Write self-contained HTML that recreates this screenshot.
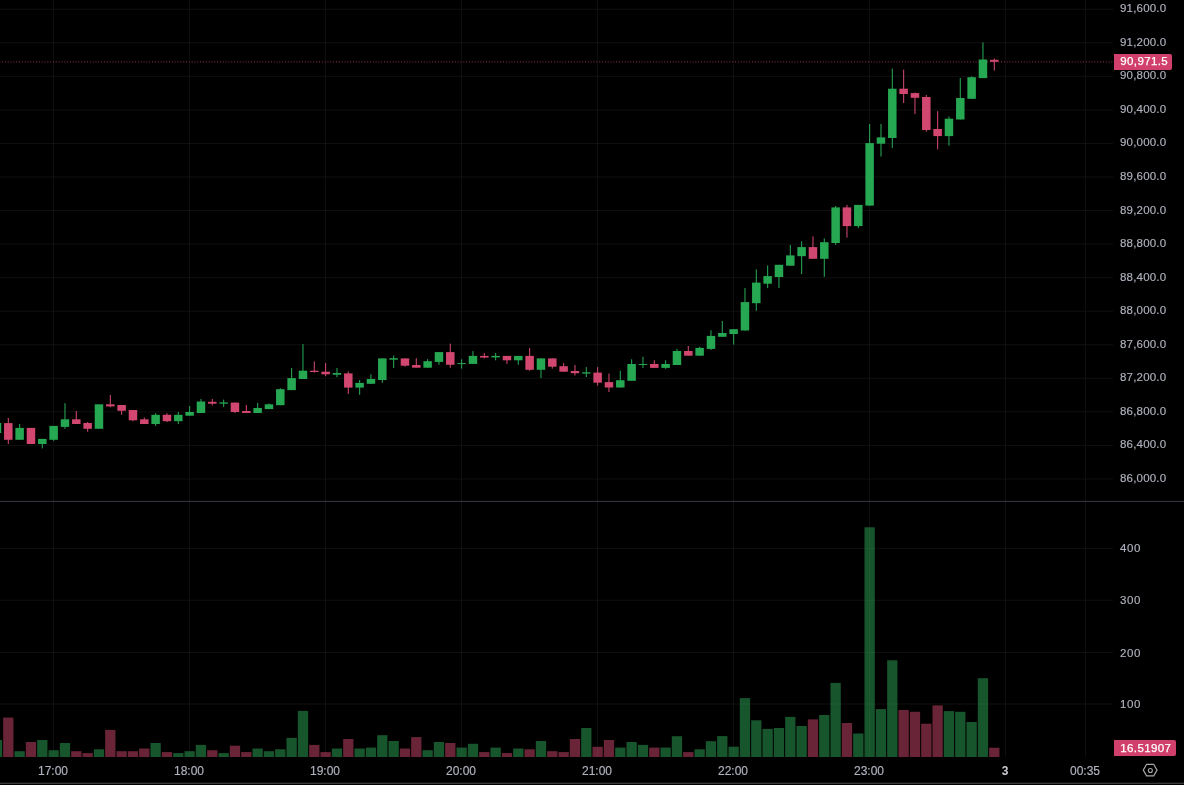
<!DOCTYPE html>
<html><head><meta charset="utf-8">
<style>
html,body{margin:0;padding:0;background:#000;}
body{width:1184px;height:785px;position:relative;overflow:hidden;font-family:"Liberation Sans",sans-serif;}
.pl,.tl,.tag{will-change:transform;}
svg{position:absolute;left:0;top:0;}
.pl{position:absolute;left:1120.3px;-webkit-text-stroke:0.15px #b0b3bf;height:14px;line-height:14px;font-size:11.5px;letter-spacing:0.2px;color:#b0b3bf;white-space:nowrap;}
.tl{position:absolute;top:763.6px;-webkit-text-stroke:0.15px #b0b3bf;width:80px;text-align:center;height:14px;line-height:14px;font-size:12px;letter-spacing:0px;color:#b0b3bf;white-space:nowrap;}
.tl.b{font-weight:bold;color:#cacbd0;-webkit-text-stroke:0;}
.tag{position:absolute;left:1114px;width:58px;height:16px;background:#d1406c;border-radius:0 2px 2px 0;color:#fff;font-size:11.5px;line-height:16px;white-space:nowrap;}
.tag span{position:absolute;left:6.3px;top:-0.6px;letter-spacing:0.38px;-webkit-text-stroke:0.25px #fff;}
</style></head><body>
<svg width="1184" height="785" viewBox="0 0 1184 785">
<rect x="0" y="8.75" width="1113" height="1" fill="#101010"/>
<rect x="0" y="42.3" width="1113" height="1" fill="#101010"/>
<rect x="0" y="75.85" width="1113" height="1" fill="#101010"/>
<rect x="0" y="109.4" width="1113" height="1" fill="#101010"/>
<rect x="0" y="142.95" width="1113" height="1" fill="#101010"/>
<rect x="0" y="176.5" width="1113" height="1" fill="#101010"/>
<rect x="0" y="210.05" width="1113" height="1" fill="#101010"/>
<rect x="0" y="243.6" width="1113" height="1" fill="#101010"/>
<rect x="0" y="277.15" width="1113" height="1" fill="#101010"/>
<rect x="0" y="310.7" width="1113" height="1" fill="#101010"/>
<rect x="0" y="344.25" width="1113" height="1" fill="#101010"/>
<rect x="0" y="377.8" width="1113" height="1" fill="#101010"/>
<rect x="0" y="411.35" width="1113" height="1" fill="#101010"/>
<rect x="0" y="444.9" width="1113" height="1" fill="#101010"/>
<rect x="0" y="478.45" width="1113" height="1" fill="#101010"/>
<rect x="0" y="547.9" width="1113" height="1" fill="#101010"/>
<rect x="0" y="599.8" width="1113" height="1" fill="#101010"/>
<rect x="0" y="652" width="1113" height="1" fill="#101010"/>
<rect x="0" y="703.5" width="1113" height="1" fill="#101010"/>
<rect x="52.9" y="0" width="1" height="757" fill="#101010"/>
<rect x="188.9" y="0" width="1" height="757" fill="#101010"/>
<rect x="324.9" y="0" width="1" height="757" fill="#101010"/>
<rect x="460.9" y="0" width="1" height="757" fill="#101010"/>
<rect x="596.9" y="0" width="1" height="757" fill="#101010"/>
<rect x="732.9" y="0" width="1" height="757" fill="#101010"/>
<rect x="868.9" y="0" width="1" height="757" fill="#101010"/>
<rect x="1004.9" y="0" width="1" height="757" fill="#101010"/>
<rect x="1085.1" y="0" width="1" height="757" fill="#101010"/>
<rect x="0" y="500.9" width="1184" height="1" fill="#363945"/>
<rect x="0" y="782.7" width="1184" height="1.3" fill="#3a3a3a"/>
<rect x="-8.18" y="740" width="10.3" height="17" fill="rgb(38,142,73)" fill-opacity="0.6"/>
<rect x="3.15" y="717.6" width="10.3" height="39.4" fill="rgb(177,60,92)" fill-opacity="0.6"/>
<rect x="14.48" y="751.2" width="10.3" height="5.8" fill="rgb(38,142,73)" fill-opacity="0.6"/>
<rect x="25.82" y="742" width="10.3" height="15" fill="rgb(177,60,92)" fill-opacity="0.6"/>
<rect x="37.15" y="740" width="10.3" height="17" fill="rgb(38,142,73)" fill-opacity="0.6"/>
<rect x="48.48" y="750.2" width="10.3" height="6.8" fill="rgb(38,142,73)" fill-opacity="0.6"/>
<rect x="59.82" y="743" width="10.3" height="14" fill="rgb(38,142,73)" fill-opacity="0.6"/>
<rect x="71.15" y="751.2" width="10.3" height="5.8" fill="rgb(177,60,92)" fill-opacity="0.6"/>
<rect x="82.48" y="753.1" width="10.3" height="3.9" fill="rgb(177,60,92)" fill-opacity="0.6"/>
<rect x="93.82" y="749.3" width="10.3" height="7.7" fill="rgb(38,142,73)" fill-opacity="0.6"/>
<rect x="105.15" y="729.9" width="10.3" height="27.1" fill="rgb(177,60,92)" fill-opacity="0.6"/>
<rect x="116.48" y="751.2" width="10.3" height="5.8" fill="rgb(177,60,92)" fill-opacity="0.6"/>
<rect x="127.82" y="751.2" width="10.3" height="5.8" fill="rgb(177,60,92)" fill-opacity="0.6"/>
<rect x="139.15" y="748.5" width="10.3" height="8.5" fill="rgb(177,60,92)" fill-opacity="0.6"/>
<rect x="150.48" y="743" width="10.3" height="14" fill="rgb(38,142,73)" fill-opacity="0.6"/>
<rect x="161.82" y="752.1" width="10.3" height="4.9" fill="rgb(177,60,92)" fill-opacity="0.6"/>
<rect x="173.15" y="753.1" width="10.3" height="3.9" fill="rgb(38,142,73)" fill-opacity="0.6"/>
<rect x="184.48" y="751.2" width="10.3" height="5.8" fill="rgb(38,142,73)" fill-opacity="0.6"/>
<rect x="195.82" y="744.9" width="10.3" height="12.1" fill="rgb(38,142,73)" fill-opacity="0.6"/>
<rect x="207.15" y="750.2" width="10.3" height="6.8" fill="rgb(177,60,92)" fill-opacity="0.6"/>
<rect x="218.48" y="753.1" width="10.3" height="3.9" fill="rgb(38,142,73)" fill-opacity="0.6"/>
<rect x="229.82" y="745.7" width="10.3" height="11.3" fill="rgb(177,60,92)" fill-opacity="0.6"/>
<rect x="241.15" y="752.1" width="10.3" height="4.9" fill="rgb(177,60,92)" fill-opacity="0.6"/>
<rect x="252.48" y="748.5" width="10.3" height="8.5" fill="rgb(38,142,73)" fill-opacity="0.6"/>
<rect x="263.82" y="751.2" width="10.3" height="5.8" fill="rgb(38,142,73)" fill-opacity="0.6"/>
<rect x="275.15" y="749.3" width="10.3" height="7.7" fill="rgb(38,142,73)" fill-opacity="0.6"/>
<rect x="286.48" y="737.9" width="10.3" height="19.1" fill="rgb(38,142,73)" fill-opacity="0.6"/>
<rect x="297.82" y="710.9" width="10.3" height="46.1" fill="rgb(38,142,73)" fill-opacity="0.6"/>
<rect x="309.15" y="744.9" width="10.3" height="12.1" fill="rgb(177,60,92)" fill-opacity="0.6"/>
<rect x="320.48" y="752.1" width="10.3" height="4.9" fill="rgb(177,60,92)" fill-opacity="0.6"/>
<rect x="331.82" y="748.5" width="10.3" height="8.5" fill="rgb(38,142,73)" fill-opacity="0.6"/>
<rect x="343.15" y="739" width="10.3" height="18" fill="rgb(177,60,92)" fill-opacity="0.6"/>
<rect x="354.48" y="748.5" width="10.3" height="8.5" fill="rgb(38,142,73)" fill-opacity="0.6"/>
<rect x="365.82" y="747.6" width="10.3" height="9.4" fill="rgb(38,142,73)" fill-opacity="0.6"/>
<rect x="377.15" y="735.2" width="10.3" height="21.8" fill="rgb(38,142,73)" fill-opacity="0.6"/>
<rect x="388.48" y="741" width="10.3" height="16" fill="rgb(38,142,73)" fill-opacity="0.6"/>
<rect x="399.82" y="748.5" width="10.3" height="8.5" fill="rgb(177,60,92)" fill-opacity="0.6"/>
<rect x="411.15" y="737.1" width="10.3" height="19.9" fill="rgb(177,60,92)" fill-opacity="0.6"/>
<rect x="422.48" y="750.2" width="10.3" height="6.8" fill="rgb(38,142,73)" fill-opacity="0.6"/>
<rect x="433.82" y="742" width="10.3" height="15" fill="rgb(38,142,73)" fill-opacity="0.6"/>
<rect x="445.15" y="743" width="10.3" height="14" fill="rgb(177,60,92)" fill-opacity="0.6"/>
<rect x="456.48" y="747.6" width="10.3" height="9.4" fill="rgb(38,142,73)" fill-opacity="0.6"/>
<rect x="467.82" y="743.8" width="10.3" height="13.2" fill="rgb(38,142,73)" fill-opacity="0.6"/>
<rect x="479.15" y="752.1" width="10.3" height="4.9" fill="rgb(177,60,92)" fill-opacity="0.6"/>
<rect x="490.48" y="747.6" width="10.3" height="9.4" fill="rgb(38,142,73)" fill-opacity="0.6"/>
<rect x="501.82" y="753.1" width="10.3" height="3.9" fill="rgb(177,60,92)" fill-opacity="0.6"/>
<rect x="513.15" y="748.5" width="10.3" height="8.5" fill="rgb(38,142,73)" fill-opacity="0.6"/>
<rect x="524.48" y="749.3" width="10.3" height="7.7" fill="rgb(177,60,92)" fill-opacity="0.6"/>
<rect x="535.82" y="741" width="10.3" height="16" fill="rgb(38,142,73)" fill-opacity="0.6"/>
<rect x="547.15" y="751.2" width="10.3" height="5.8" fill="rgb(177,60,92)" fill-opacity="0.6"/>
<rect x="558.48" y="752.1" width="10.3" height="4.9" fill="rgb(177,60,92)" fill-opacity="0.6"/>
<rect x="569.81" y="739" width="10.3" height="18" fill="rgb(177,60,92)" fill-opacity="0.6"/>
<rect x="581.15" y="728" width="10.3" height="29" fill="rgb(38,142,73)" fill-opacity="0.6"/>
<rect x="592.48" y="746.8" width="10.3" height="10.2" fill="rgb(177,60,92)" fill-opacity="0.6"/>
<rect x="603.81" y="740" width="10.3" height="17" fill="rgb(177,60,92)" fill-opacity="0.6"/>
<rect x="615.15" y="747.6" width="10.3" height="9.4" fill="rgb(38,142,73)" fill-opacity="0.6"/>
<rect x="626.48" y="742" width="10.3" height="15" fill="rgb(38,142,73)" fill-opacity="0.6"/>
<rect x="637.81" y="744.9" width="10.3" height="12.1" fill="rgb(38,142,73)" fill-opacity="0.6"/>
<rect x="649.15" y="747.6" width="10.3" height="9.4" fill="rgb(177,60,92)" fill-opacity="0.6"/>
<rect x="660.48" y="747.6" width="10.3" height="9.4" fill="rgb(38,142,73)" fill-opacity="0.6"/>
<rect x="671.81" y="736.2" width="10.3" height="20.8" fill="rgb(38,142,73)" fill-opacity="0.6"/>
<rect x="683.15" y="752.1" width="10.3" height="4.9" fill="rgb(177,60,92)" fill-opacity="0.6"/>
<rect x="694.48" y="749.3" width="10.3" height="7.7" fill="rgb(38,142,73)" fill-opacity="0.6"/>
<rect x="705.81" y="741.2" width="10.3" height="15.8" fill="rgb(38,142,73)" fill-opacity="0.6"/>
<rect x="717.15" y="736.1" width="10.3" height="20.9" fill="rgb(38,142,73)" fill-opacity="0.6"/>
<rect x="728.48" y="746.7" width="10.3" height="10.3" fill="rgb(38,142,73)" fill-opacity="0.6"/>
<rect x="739.81" y="698.1" width="10.3" height="58.9" fill="rgb(38,142,73)" fill-opacity="0.6"/>
<rect x="751.15" y="720.3" width="10.3" height="36.7" fill="rgb(38,142,73)" fill-opacity="0.6"/>
<rect x="762.48" y="728.9" width="10.3" height="28.1" fill="rgb(38,142,73)" fill-opacity="0.6"/>
<rect x="773.81" y="728" width="10.3" height="29" fill="rgb(38,142,73)" fill-opacity="0.6"/>
<rect x="785.15" y="716.9" width="10.3" height="40.1" fill="rgb(38,142,73)" fill-opacity="0.6"/>
<rect x="796.48" y="726" width="10.3" height="31" fill="rgb(38,142,73)" fill-opacity="0.6"/>
<rect x="807.81" y="719.4" width="10.3" height="37.6" fill="rgb(177,60,92)" fill-opacity="0.6"/>
<rect x="819.15" y="715" width="10.3" height="42" fill="rgb(38,142,73)" fill-opacity="0.6"/>
<rect x="830.48" y="682.9" width="10.3" height="74.1" fill="rgb(38,142,73)" fill-opacity="0.6"/>
<rect x="841.81" y="723" width="10.3" height="34" fill="rgb(177,60,92)" fill-opacity="0.6"/>
<rect x="853.15" y="733.5" width="10.3" height="23.5" fill="rgb(38,142,73)" fill-opacity="0.6"/>
<rect x="864.48" y="527.3" width="10.3" height="229.7" fill="rgb(38,142,73)" fill-opacity="0.6"/>
<rect x="875.81" y="709.1" width="10.3" height="47.9" fill="rgb(38,142,73)" fill-opacity="0.6"/>
<rect x="887.15" y="660.3" width="10.3" height="96.7" fill="rgb(38,142,73)" fill-opacity="0.6"/>
<rect x="898.48" y="710" width="10.3" height="47" fill="rgb(177,60,92)" fill-opacity="0.6"/>
<rect x="909.81" y="711.8" width="10.3" height="45.2" fill="rgb(177,60,92)" fill-opacity="0.6"/>
<rect x="921.15" y="723.7" width="10.3" height="33.3" fill="rgb(177,60,92)" fill-opacity="0.6"/>
<rect x="932.48" y="705.4" width="10.3" height="51.6" fill="rgb(177,60,92)" fill-opacity="0.6"/>
<rect x="943.81" y="711.1" width="10.3" height="45.9" fill="rgb(38,142,73)" fill-opacity="0.6"/>
<rect x="955.15" y="711.8" width="10.3" height="45.2" fill="rgb(38,142,73)" fill-opacity="0.6"/>
<rect x="966.48" y="722" width="10.3" height="35" fill="rgb(38,142,73)" fill-opacity="0.6"/>
<rect x="977.81" y="678.2" width="10.3" height="78.8" fill="rgb(38,142,73)" fill-opacity="0.6"/>
<rect x="989.15" y="747.7" width="10.3" height="9.3" fill="rgb(177,60,92)" fill-opacity="0.6"/>
<line x1="0" y1="61.9" x2="1113" y2="61.9" stroke="#7c2748" stroke-width="1.2" stroke-dasharray="0.95 1.88" stroke-dashoffset="-2.06"/>
<rect x="-7.28" y="423" width="8.5" height="10" fill="#26a752"/>
<rect x="7.78" y="418" width="1.05" height="26" fill="#d2476f"/>
<rect x="4.05" y="423.1" width="8.5" height="16.7" fill="#d2476f"/>
<rect x="19.11" y="424" width="1.05" height="15.8" fill="#26a752"/>
<rect x="15.38" y="427.9" width="8.5" height="11.9" fill="#26a752"/>
<rect x="26.72" y="427.9" width="8.5" height="16.1" fill="#d2476f"/>
<rect x="41.77" y="438.9" width="1.05" height="9.5" fill="#26a752"/>
<rect x="38.05" y="438.9" width="8.5" height="5.1" fill="#26a752"/>
<rect x="53.11" y="425.9" width="1.05" height="14.9" fill="#26a752"/>
<rect x="49.38" y="425.9" width="8.5" height="13.9" fill="#26a752"/>
<rect x="64.44" y="403.2" width="1.05" height="25.6" fill="#26a752"/>
<rect x="60.72" y="419.3" width="8.5" height="7.6" fill="#26a752"/>
<rect x="75.77" y="411" width="1.05" height="13" fill="#d2476f"/>
<rect x="72.05" y="419.3" width="8.5" height="4.7" fill="#d2476f"/>
<rect x="87.11" y="422" width="1.05" height="9.7" fill="#d2476f"/>
<rect x="83.38" y="423" width="8.5" height="5.8" fill="#d2476f"/>
<rect x="94.72" y="404.3" width="8.5" height="24.5" fill="#26a752"/>
<rect x="109.77" y="395" width="1.05" height="12.2" fill="#d2476f"/>
<rect x="106.05" y="404.3" width="8.5" height="2.1" fill="#d2476f"/>
<rect x="121.11" y="405" width="1.05" height="9.8" fill="#d2476f"/>
<rect x="117.38" y="405" width="8.5" height="5.8" fill="#d2476f"/>
<rect x="132.44" y="410" width="1.05" height="11.2" fill="#d2476f"/>
<rect x="128.72" y="410" width="8.5" height="10.3" fill="#d2476f"/>
<rect x="143.77" y="417.4" width="1.05" height="6.6" fill="#d2476f"/>
<rect x="140.05" y="419.3" width="8.5" height="4.7" fill="#d2476f"/>
<rect x="155.11" y="413.2" width="1.05" height="12.7" fill="#26a752"/>
<rect x="151.38" y="414.8" width="8.5" height="9.2" fill="#26a752"/>
<rect x="166.44" y="413.2" width="1.05" height="8.8" fill="#d2476f"/>
<rect x="162.72" y="414.8" width="8.5" height="6.4" fill="#d2476f"/>
<rect x="177.77" y="412" width="1.05" height="12" fill="#26a752"/>
<rect x="174.05" y="414.8" width="8.5" height="6.4" fill="#26a752"/>
<rect x="189.11" y="406" width="1.05" height="9.7" fill="#26a752"/>
<rect x="185.38" y="412" width="8.5" height="3.7" fill="#26a752"/>
<rect x="200.44" y="399" width="1.05" height="14" fill="#26a752"/>
<rect x="196.72" y="401.5" width="8.5" height="11.5" fill="#26a752"/>
<rect x="211.77" y="399" width="1.05" height="6.3" fill="#d2476f"/>
<rect x="208.05" y="401.8" width="8.5" height="1.9" fill="#d2476f"/>
<rect x="223.11" y="399.6" width="1.05" height="7.3" fill="#26a752"/>
<rect x="219.38" y="402.4" width="8.5" height="1.3" fill="#26a752"/>
<rect x="234.44" y="402.6" width="1.05" height="10.4" fill="#d2476f"/>
<rect x="230.72" y="402.6" width="8.5" height="9.4" fill="#d2476f"/>
<rect x="245.77" y="405" width="1.05" height="8" fill="#d2476f"/>
<rect x="242.05" y="411" width="8.5" height="2" fill="#d2476f"/>
<rect x="257.11" y="403" width="1.05" height="10" fill="#26a752"/>
<rect x="253.38" y="408" width="8.5" height="5" fill="#26a752"/>
<rect x="268.44" y="403.4" width="1.05" height="5.7" fill="#26a752"/>
<rect x="264.72" y="404.3" width="8.5" height="4.8" fill="#26a752"/>
<rect x="279.77" y="388.2" width="1.05" height="17" fill="#26a752"/>
<rect x="276.05" y="389.2" width="8.5" height="16" fill="#26a752"/>
<rect x="291.11" y="368" width="1.05" height="22.1" fill="#26a752"/>
<rect x="287.38" y="378.1" width="8.5" height="12" fill="#26a752"/>
<rect x="302.44" y="344.1" width="1.05" height="34.9" fill="#26a752"/>
<rect x="298.72" y="370.7" width="8.5" height="8.3" fill="#26a752"/>
<rect x="313.77" y="361.4" width="1.05" height="11.2" fill="#d2476f"/>
<rect x="310.05" y="370.7" width="8.5" height="1.3" fill="#d2476f"/>
<rect x="325.11" y="362.9" width="1.05" height="13.3" fill="#d2476f"/>
<rect x="321.38" y="371.7" width="8.5" height="2.6" fill="#d2476f"/>
<rect x="336.44" y="368" width="1.05" height="9.2" fill="#26a752"/>
<rect x="332.72" y="373" width="8.5" height="1.7" fill="#26a752"/>
<rect x="347.77" y="371.5" width="1.05" height="22.4" fill="#d2476f"/>
<rect x="344.05" y="373.4" width="8.5" height="14.2" fill="#d2476f"/>
<rect x="359.11" y="380" width="1.05" height="14.8" fill="#26a752"/>
<rect x="355.38" y="382.9" width="8.5" height="4.7" fill="#26a752"/>
<rect x="370.44" y="374.3" width="1.05" height="9.5" fill="#26a752"/>
<rect x="366.72" y="379" width="8.5" height="4.8" fill="#26a752"/>
<rect x="381.77" y="358.4" width="1.05" height="24.5" fill="#26a752"/>
<rect x="378.05" y="358.4" width="8.5" height="21.6" fill="#26a752"/>
<rect x="393.11" y="355.5" width="1.05" height="12.5" fill="#26a752"/>
<rect x="389.38" y="358.2" width="8.5" height="1.5" fill="#26a752"/>
<rect x="404.44" y="358.4" width="1.05" height="8.3" fill="#d2476f"/>
<rect x="400.72" y="358.4" width="8.5" height="7.3" fill="#d2476f"/>
<rect x="415.77" y="358.2" width="1.05" height="9.5" fill="#d2476f"/>
<rect x="412.05" y="365" width="8.5" height="2.7" fill="#d2476f"/>
<rect x="427.11" y="359.1" width="1.05" height="8.6" fill="#26a752"/>
<rect x="423.38" y="361.2" width="8.5" height="6.5" fill="#26a752"/>
<rect x="438.44" y="352.1" width="1.05" height="12.7" fill="#26a752"/>
<rect x="434.72" y="352.1" width="8.5" height="9.8" fill="#26a752"/>
<rect x="449.77" y="343.6" width="1.05" height="24.1" fill="#d2476f"/>
<rect x="446.05" y="352.1" width="8.5" height="12.7" fill="#d2476f"/>
<rect x="461.11" y="359.3" width="1.05" height="9.3" fill="#26a752"/>
<rect x="457.38" y="363.1" width="8.5" height="1" fill="#26a752"/>
<rect x="472.44" y="351.1" width="1.05" height="12.8" fill="#26a752"/>
<rect x="468.72" y="355.9" width="8.5" height="8" fill="#26a752"/>
<rect x="483.77" y="353" width="1.05" height="5.4" fill="#d2476f"/>
<rect x="480.05" y="355.9" width="8.5" height="1.7" fill="#d2476f"/>
<rect x="495.11" y="353" width="1.05" height="7.3" fill="#26a752"/>
<rect x="491.38" y="355.9" width="8.5" height="1.5" fill="#26a752"/>
<rect x="506.44" y="355.9" width="1.05" height="8" fill="#d2476f"/>
<rect x="502.72" y="355.9" width="8.5" height="4.4" fill="#d2476f"/>
<rect x="517.77" y="355.9" width="1.05" height="8.9" fill="#26a752"/>
<rect x="514.05" y="355.9" width="8.5" height="4.4" fill="#26a752"/>
<rect x="529.11" y="348" width="1.05" height="22.7" fill="#d2476f"/>
<rect x="525.38" y="355.9" width="8.5" height="13.9" fill="#d2476f"/>
<rect x="540.44" y="358.4" width="1.05" height="19.7" fill="#26a752"/>
<rect x="536.72" y="358.4" width="8.5" height="11.4" fill="#26a752"/>
<rect x="551.77" y="358.4" width="1.05" height="10.2" fill="#d2476f"/>
<rect x="548.05" y="358.4" width="8.5" height="8.3" fill="#d2476f"/>
<rect x="563.11" y="363.1" width="1.05" height="8.6" fill="#d2476f"/>
<rect x="559.38" y="366.2" width="8.5" height="5.5" fill="#d2476f"/>
<rect x="574.44" y="365" width="1.05" height="10.5" fill="#d2476f"/>
<rect x="570.71" y="371" width="8.5" height="2.2" fill="#d2476f"/>
<rect x="585.77" y="367.1" width="1.05" height="9.9" fill="#26a752"/>
<rect x="582.05" y="372.3" width="8.5" height="1.3" fill="#26a752"/>
<rect x="597.11" y="367.1" width="1.05" height="18.5" fill="#d2476f"/>
<rect x="593.38" y="372.6" width="8.5" height="10.1" fill="#d2476f"/>
<rect x="608.44" y="373.5" width="1.05" height="18.5" fill="#d2476f"/>
<rect x="604.71" y="382.1" width="8.5" height="5.4" fill="#d2476f"/>
<rect x="619.77" y="370.7" width="1.05" height="16.8" fill="#26a752"/>
<rect x="616.05" y="380.2" width="8.5" height="7.3" fill="#26a752"/>
<rect x="631.11" y="359.3" width="1.05" height="21.5" fill="#26a752"/>
<rect x="627.38" y="364" width="8.5" height="16.8" fill="#26a752"/>
<rect x="642.44" y="356.7" width="1.05" height="11.2" fill="#26a752"/>
<rect x="638.71" y="364" width="8.5" height="1" fill="#26a752"/>
<rect x="653.77" y="360.3" width="1.05" height="7.6" fill="#d2476f"/>
<rect x="650.05" y="364" width="8.5" height="3.9" fill="#d2476f"/>
<rect x="665.11" y="360.3" width="1.05" height="8.5" fill="#26a752"/>
<rect x="661.38" y="364" width="8.5" height="3.9" fill="#26a752"/>
<rect x="676.44" y="348.9" width="1.05" height="16.1" fill="#26a752"/>
<rect x="672.71" y="351" width="8.5" height="14" fill="#26a752"/>
<rect x="687.77" y="346" width="1.05" height="9.7" fill="#d2476f"/>
<rect x="684.05" y="351" width="8.5" height="4.7" fill="#d2476f"/>
<rect x="699.11" y="346.9" width="1.05" height="8.8" fill="#26a752"/>
<rect x="695.38" y="347.9" width="8.5" height="7.8" fill="#26a752"/>
<rect x="710.44" y="330.2" width="1.05" height="19.8" fill="#26a752"/>
<rect x="706.71" y="335.9" width="8.5" height="13" fill="#26a752"/>
<rect x="721.77" y="321" width="1.05" height="15.8" fill="#26a752"/>
<rect x="718.05" y="333" width="8.5" height="3.8" fill="#26a752"/>
<rect x="733.11" y="329.2" width="1.05" height="15.4" fill="#26a752"/>
<rect x="729.38" y="329.2" width="8.5" height="4.8" fill="#26a752"/>
<rect x="744.44" y="288.1" width="1.05" height="42.4" fill="#26a752"/>
<rect x="740.71" y="302.1" width="8.5" height="28.4" fill="#26a752"/>
<rect x="755.77" y="269.4" width="1.05" height="41.4" fill="#26a752"/>
<rect x="752.05" y="282.6" width="8.5" height="20.6" fill="#26a752"/>
<rect x="767.11" y="265.5" width="1.05" height="22.6" fill="#26a752"/>
<rect x="763.38" y="276.1" width="8.5" height="7.6" fill="#26a752"/>
<rect x="778.44" y="264.8" width="1.05" height="23.3" fill="#26a752"/>
<rect x="774.71" y="264.8" width="8.5" height="12.2" fill="#26a752"/>
<rect x="789.77" y="245" width="1.05" height="20.7" fill="#26a752"/>
<rect x="786.05" y="255.4" width="8.5" height="10.3" fill="#26a752"/>
<rect x="801.11" y="241.3" width="1.05" height="32.8" fill="#26a752"/>
<rect x="797.38" y="247.1" width="8.5" height="9.1" fill="#26a752"/>
<rect x="812.44" y="236.4" width="1.05" height="22.4" fill="#d2476f"/>
<rect x="808.71" y="247.1" width="8.5" height="11.7" fill="#d2476f"/>
<rect x="823.77" y="238.4" width="1.05" height="38.4" fill="#26a752"/>
<rect x="820.05" y="242.2" width="8.5" height="16.6" fill="#26a752"/>
<rect x="835.11" y="206" width="1.05" height="38.8" fill="#26a752"/>
<rect x="831.38" y="207.4" width="8.5" height="35.6" fill="#26a752"/>
<rect x="846.44" y="204.9" width="1.05" height="32.7" fill="#d2476f"/>
<rect x="842.71" y="207.4" width="8.5" height="18.7" fill="#d2476f"/>
<rect x="857.77" y="204.9" width="1.05" height="23.2" fill="#26a752"/>
<rect x="854.05" y="204.9" width="8.5" height="21.2" fill="#26a752"/>
<rect x="869.11" y="124" width="1.05" height="81.6" fill="#26a752"/>
<rect x="865.38" y="143.1" width="8.5" height="62.5" fill="#26a752"/>
<rect x="880.44" y="124" width="1.05" height="32.5" fill="#26a752"/>
<rect x="876.71" y="137.4" width="8.5" height="6.3" fill="#26a752"/>
<rect x="891.77" y="68.6" width="1.05" height="79.3" fill="#26a752"/>
<rect x="888.05" y="88.7" width="8.5" height="49.3" fill="#26a752"/>
<rect x="903.11" y="69.6" width="1.05" height="33.4" fill="#d2476f"/>
<rect x="899.38" y="88.7" width="8.5" height="5.3" fill="#d2476f"/>
<rect x="914.44" y="92.5" width="1.05" height="21.4" fill="#d2476f"/>
<rect x="910.71" y="93.1" width="8.5" height="4.7" fill="#d2476f"/>
<rect x="925.77" y="95" width="1.05" height="36.7" fill="#d2476f"/>
<rect x="922.05" y="97" width="8.5" height="33" fill="#d2476f"/>
<rect x="937.11" y="111.2" width="1.05" height="38.1" fill="#d2476f"/>
<rect x="933.38" y="129" width="8.5" height="7.1" fill="#d2476f"/>
<rect x="948.44" y="116.5" width="1.05" height="29.2" fill="#26a752"/>
<rect x="944.71" y="118.7" width="8.5" height="17.4" fill="#26a752"/>
<rect x="959.77" y="78.1" width="1.05" height="41.4" fill="#26a752"/>
<rect x="956.05" y="98" width="8.5" height="21.5" fill="#26a752"/>
<rect x="971.11" y="76.4" width="1.05" height="22.4" fill="#26a752"/>
<rect x="967.38" y="77.2" width="8.5" height="21.6" fill="#26a752"/>
<rect x="982.44" y="42.4" width="1.05" height="35.7" fill="#26a752"/>
<rect x="978.71" y="59.5" width="8.5" height="18.6" fill="#26a752"/>
<rect x="993.77" y="58.5" width="1.05" height="12.1" fill="#d2476f"/>
<rect x="990.05" y="59.8" width="8.5" height="2" fill="#d2476f"/>
</svg>
<div class="pl" style="top:1.25px">91,600.0</div><div class="pl" style="top:34.8px">91,200.0</div><div class="pl" style="top:68.35px">90,800.0</div><div class="pl" style="top:101.9px">90,400.0</div><div class="pl" style="top:135.45px">90,000.0</div><div class="pl" style="top:169px">89,600.0</div><div class="pl" style="top:202.55px">89,200.0</div><div class="pl" style="top:236.1px">88,800.0</div><div class="pl" style="top:269.65px">88,400.0</div><div class="pl" style="top:303.2px">88,000.0</div><div class="pl" style="top:336.75px">87,600.0</div><div class="pl" style="top:370.3px">87,200.0</div><div class="pl" style="top:403.85px">86,800.0</div><div class="pl" style="top:437.4px">86,400.0</div><div class="pl" style="top:470.95px">86,000.0</div><div class="pl" style="top:541.4px;letter-spacing:0.6px">400</div><div class="pl" style="top:593.3px;letter-spacing:0.6px">300</div><div class="pl" style="top:645.5px;letter-spacing:0.6px">200</div><div class="pl" style="top:697px;letter-spacing:0.6px">100</div><div class="tl" style="left:13.4px">17:00</div><div class="tl" style="left:149.4px">18:00</div><div class="tl" style="left:285.4px">19:00</div><div class="tl" style="left:421.4px">20:00</div><div class="tl" style="left:557.4px">21:00</div><div class="tl" style="left:693.4px">22:00</div><div class="tl" style="left:829.4px">23:00</div><div class="tl" style="left:1044.7px">00:35</div><div class="tl b" style="left:965.2px">3</div>
<div class="tag" style="top:54px"><span>90,971.5</span></div>
<div class="tag" style="top:740px;width:61.6px"><span style="top:0">16.51907</span></div>
<svg width="20" height="20" viewBox="0 0 20 20" style="left:1140.3px;top:760.3px">
<polygon points="3.3,10.1 6.6,4.3 13.7,4.3 17.0,10.1 13.7,15.9 6.6,15.9" fill="none" stroke="#a8a8a8" stroke-width="1.15" stroke-linejoin="round"/>
<circle cx="10.35" cy="10.55" r="2.0" fill="none" stroke="#a8a8a8" stroke-width="1.1"/>
</svg>
</body></html>
